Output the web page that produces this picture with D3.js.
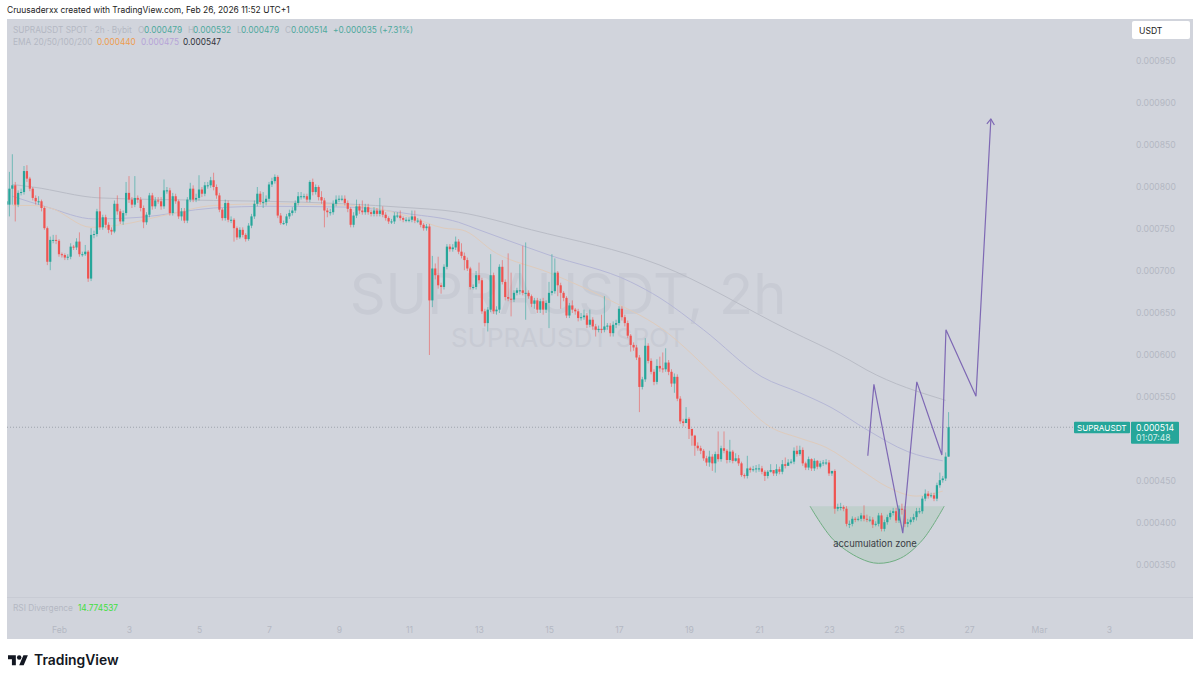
<!DOCTYPE html>
<html>
<head>
    <meta charset="utf-8">
    <title>SUPRAUSDT 2h</title>
    <script src="https://d3js.org/d3.v7.min.js"></script>
    <style>
        html, body { margin: 0; padding: 0; background: #fff; }
        svg { display: block; font-family: Inter, "Noto Sans", sans-serif; }
        .axis path, .axis line { display: none; }
    </style>
</head>

<body>
<div id="chart"></div>
<script type="text/javascript">
    // prices are in millionths of USDT, one value per 2h candle
    const firstCandle = "2026-01-30T12:00:00Z";
    const closes = [
        779,798,802,779,793,794,819,810,798,787,783,783,775,751,711,737,737,736,720,719,
        716,717,729,728,735,720,720,723,691,743,744,771,752,764,755,749,747,780,771,759,
        769,793,785,779,787,785,775,758,767,790,777,784,783,777,796,796,769,789,783,765,
        771,760,785,798,785,787,797,792,802,802,808,800,790,773,763,781,761,
        761,751,740,749,743,738,754,765,780,792,782,782,786,803,807,812,766,757,757,765,
        769,772,781,789,789,789,785,806,794,800,788,784,772,770,770,780,785,786,786,781,
        774,755,766,777,772,770,776,770,768,772,768,772,767,763,759,759,766,766,763,761,
        761,761,765,760,760,755,751,753,665,703,695,683,681,705,729,726,728,735,723,
        718,713,703,681,681,695,689,652,638,654,695,652,654,705,687,669,667,666,674,677,
        677,674,674,670,661,665,654,664,654,662,674,676,698,683,674,668,647,659,654,652,
        644,645,647,636,642,634,630,631,630,634,635,626,636,638,655,645,638,623,612,609,597,
        562,571,611,593,580,568,587,584,583,591,580,566,574,548,521,519,524,512,504,492,
        489,486,477,472,479,471,482,476,489,486,475,485,474,477,471,457,456,465,463,464,
        465,465,461,456,461,463,459,464,461,470,468,472,473,486,482,487,471,466,476,465,
        474,467,471,472,472,459,462,
        417,419,419,417,399,399,405,404,405,409,405,404,404,398,399,409,393,401,407,412,
        414,403,417,416,399,401,404,407,414,414,429,435,432,433,429,445,451,453,479,514
    ];
    const highs = [
        787,818,839,806,796,798,825,826,812,800,790,789,785,777,753,741,743,743,738,722,
        721,720,733,731,739,746,723,731,725,751,748,774,800,767,767,758,752,784,790,774,
        772,806,813,788,813,790,788,778,770,793,793,788,788,788,809,800,799,793,792,785,
        775,775,788,805,802,792,814,800,806,806,812,817,803,793,775,785,784,
        765,763,753,752,752,745,757,768,784,800,795,794,790,806,811,815,814,769,760,768,
        773,776,784,794,794,792,792,808,810,803,802,795,787,775,774,784,790,790,790,790,
        784,776,770,785,780,784,780,780,773,776,775,787,777,770,765,762,770,770,772,765,
        764,764,772,772,763,762,757,756,756,718,709,717,686,708,732,732,732,741,738,
        733,722,716,705,684,700,710,692,655,657,720,698,658,708,713,690,721,698,677,680,
        708,730,734,677,672,668,668,667,668,665,687,720,715,700,686,676,670,662,665,656,
        655,650,654,650,654,645,637,635,648,670,638,638,640,642,658,658,648,641,625,615,612,
        600,574,620,614,596,583,595,598,603,608,594,583,578,577,551,524,538,526,512,505,
        496,492,488,480,486,482,485,509,492,509,488,499,487,483,481,473,459,480,467,468,
        469,470,468,463,463,470,463,470,467,475,478,476,476,490,492,492,490,473,479,477,
        477,475,474,475,476,475,462,
        464,423,424,421,420,403,408,407,408,412,421,410,408,407,402,412,412,404,410,415,
        418,418,421,423,420,405,407,411,418,418,432,440,438,436,436,448,460,456,484,532
    ];
    const lows = [
        775,765,779,759,776,790,791,806,795,784,779,779,771,749,707,701,733,732,717,716,
        713,713,714,725,725,717,717,718,687,688,739,741,749,749,751,745,743,745,767,756,
        755,766,781,775,776,781,771,751,755,764,773,774,780,773,774,792,766,766,780,762,
        760,757,757,782,782,782,784,788,789,798,799,796,786,770,760,760,758,
        757,735,737,738,740,735,736,751,762,777,779,775,778,783,800,804,763,755,755,754,
        762,766,769,778,785,786,782,782,790,791,784,780,752,764,766,767,777,782,783,778,
        770,752,752,763,768,767,767,767,765,765,765,765,764,760,756,756,756,763,760,758,
        758,758,758,757,757,752,748,748,600,657,690,679,673,678,702,723,723,725,720,
        715,701,700,678,678,678,685,649,634,628,651,649,648,650,684,665,664,646,663,671,
        672,671,642,667,657,655,650,650,648,650,632,671,673,670,655,664,644,644,650,648,
        640,641,642,632,633,630,622,627,626,627,630,622,622,632,635,641,634,620,604,605,594,
        532,559,568,590,577,564,565,580,579,580,576,562,555,545,518,515,521,500,492,480,
        486,482,474,468,467,462,460,473,473,483,471,472,471,473,468,455,453,453,460,461,
        460,461,458,450,453,460,456,456,458,458,465,469,470,470,479,480,468,463,463,462,
        462,464,465,468,469,456,456,
        411,414,415,414,396,394,396,401,402,402,402,401,401,394,396,396,390,390,398,404,
        409,400,400,410,395,395,398,401,403,411,411,426,429,430,426,426,442,448,450,479
    ];

    // moving averages read at a few candles (candle number, price)
    const ema200Candles = [2,9,32,71,101,135,155,180,224,268,289,295,322];
    const ema200Values = [803,800,787,784,782,776,770,749,707,630,594,582,546];
    const ema100Candles = [2,14,30,46,71,90,118,138,155,162,186,214,224,239,259,272,283,295,309,321];
    const ema100Values = [789,776,762,764,775,777,776,768,758,749,719,687,668,630,574,555,537,511,485,474];
    const ema50Candles = [2,9,15,29,39,55,71,90,118,138,150,156,168,186,207,224,248,262,272,281,293,302,312,321];
    const ema50Values = [778,778,775,752,755,767,778,780,778,765,751,749,721,698,665,633,558,514,501,490,463,443,432,438];

    // hand drawn path and the accumulation arc
    const pathCandles = [295.3,297.4,307.3,312.1,320.7,322.1,332.4,337.5];
    const pathValues = [480,565,388,568,481,630,551,881];
    const zoneCandles = [275.5,283.5,292.6,298.9,306.5,314.1,321.5];
    const zoneValues = [420,380,358,352,358,380,420];

    const priceTicks = [350,400,450,500,550,600,650,700,750,800,850,900,950];
    const tickDates = ["2026-02-01","2026-02-03","2026-02-05","2026-02-07","2026-02-09","2026-02-11","2026-02-13","2026-02-15","2026-02-17","2026-02-19","2026-02-21","2026-02-23","2026-02-25","2026-02-27","2026-03-01","2026-03-03"];
    const tickLabels = ["Feb","3","5","7","9","11","13","15","17","19","21","23","25","27","Mar","3"];
    const lastPrice = 514;

    const width = 1200, height = 682;
    const panel = {left: 7, top: 19, right: 1193, bottom: 639};
    const plotRight = 1131;
    const upColor = "#26a69a", downColor = "#ef5350";
    const dimText = "#b4b8c3";
    const bg = "#d1d4dc";

    const t0 = new Date(firstCandle).getTime();
    const candleTime = i => new Date(t0 + i * 2 * 3600 * 1000);

    const x = d3.scaleUtc()
        .domain([new Date(tickDates[0]), new Date("2026-02-27")])
        .range([59, 969]);
    const y = d3.scaleLinear().domain([350, 950]).range([565, 61]);

    const svg = d3.select("#chart").append("svg")
        .attr("width", width).attr("height", height);

    svg.append("rect")
        .attr("x", panel.left).attr("y", panel.top)
        .attr("width", panel.right - panel.left).attr("height", panel.bottom - panel.top)
        .attr("fill", bg);

    svg.append("clipPath").attr("id", "plot").append("rect")
        .attr("x", panel.left).attr("y", panel.top)
        .attr("width", plotRight - panel.left).attr("height", 578);

    // pane separator
    svg.append("line")
        .attr("x1", panel.left).attr("x2", panel.right)
        .attr("y1", 597.5).attr("y2", 597.5)
        .attr("stroke", "#c8cbd4");

    // watermark
    svg.append("text").attr("x", 568).attr("y", 314)
        .attr("text-anchor", "middle").attr("font-size", 56)
        .attr("fill", "#c8cbd4").text("SUPRAUSDT, 2h");
    svg.append("text").attr("x", 568).attr("y", 347)
        .attr("text-anchor", "middle").attr("font-size", 26)
        .attr("fill", "#c8cbd4").text("SUPRAUSDT SPOT");

    const plot = svg.append("g").attr("clip-path", "url(#plot)");

    // last price dotted line
    plot.append("line")
        .attr("x1", panel.left).attr("x2", plotRight)
        .attr("y1", y(lastPrice)).attr("y2", y(lastPrice))
        .attr("stroke", "#9ea3ad").attr("stroke-width", 1)
        .attr("stroke-dasharray", "1 2");

    // moving averages
    function drawEma(candles, values, color) {
        const line = d3.line()
            .x(function (d, i) { return x(candleTime(candles[i])); })
            .y(function (d) { return y(d); })
            .curve(d3.curveMonotoneX);
        plot.append("path").attr("d", line(values))
            .attr("fill", "none").attr("stroke", color).attr("stroke-width", 1);
    }
    drawEma(ema200Candles, ema200Values, "#b9bcc6");
    drawEma(ema100Candles, ema100Values, "#b5b7d6");
    drawEma(ema50Candles, ema50Values, "#dfcbbb");

    // accumulation zone
    const zoneLine = d3.line()
        .x(function (d, i) { return x(candleTime(zoneCandles[i])); })
        .y(function (d) { return y(d); })
        .curve(d3.curveCatmullRom);
    plot.append("path").attr("d", zoneLine(zoneValues) + "Z")
        .attr("fill", "#7fbf8a").attr("fill-opacity", 0.2);
    plot.append("path").attr("d", zoneLine(zoneValues))
        .attr("fill", "none").attr("stroke", "#6fae82").attr("stroke-width", 1);

    // candles
    const candles = plot.selectAll("g.candle")
        .data(closes)
        .enter().append("g").attr("class", "candle");
    const isUp = (d, i) => d >= (i > 0 ? closes[i - 1] : d);

    candles.append("line")
        .attr("x1", (d, i) => x(candleTime(i))).attr("x2", (d, i) => x(candleTime(i)))
        .attr("y1", (d, i) => y(highs[i])).attr("y2", (d, i) => y(lows[i]))
        .attr("stroke", (d, i) => isUp(d, i) ? upColor : downColor)
        .attr("stroke-opacity", 0.7).attr("stroke-width", 0.8);
    candles.append("rect")
        .attr("x", (d, i) => x(candleTime(i)) - 1.1)
        .attr("width", 2.2)
        .attr("y", (d, i) => y(Math.max(d, i > 0 ? closes[i - 1] : 783)))
        .attr("height", (d, i) => Math.max(1, Math.abs(y(d) - y(i > 0 ? closes[i - 1] : 783))))
        .attr("fill", (d, i) => isUp(d, i) ? upColor : downColor);

    // hand drawn path with arrow head
    const pathLine = d3.line()
        .x(function (d, i) { return x(candleTime(pathCandles[i])); })
        .y(function (d) { return y(d); });
    svg.append("path").attr("d", pathLine(pathValues))
        .attr("fill", "none").attr("stroke", "#7e68b4").attr("stroke-width", 1.2);
    const tipX = x(candleTime(pathCandles[pathCandles.length - 1]));
    const tipY = y(pathValues[pathValues.length - 1]);
    svg.append("path")
        .attr("d", d3.line()([[tipX - 4, tipY + 5], [tipX, tipY], [tipX + 3.5, tipY + 6]]))
        .attr("fill", "none").attr("stroke", "#7e68b4").attr("stroke-width", 1.2);

    svg.append("text").attr("x", 875).attr("y", 547)
        .attr("text-anchor", "middle").attr("font-size", 9.4)
        .attr("fill", "#3a3d45").text("accumulation zone");

    // axes
    svg.append("g").attr("class", "axis")
        .attr("transform", "translate(0,624)")
        .call(d3.axisBottom(x)
            .tickValues(tickDates.map(d => new Date(d)))
            .tickSize(0)
            .tickFormat((d, i) => tickLabels[i]))
        .call(g => g.attr("font-family", null).attr("font-size", 8.6)
            .selectAll("text").attr("fill", dimText));
    svg.append("g").attr("class", "axis")
        .attr("transform", "translate(1131,0)")
        .call(d3.axisRight(y)
            .tickValues(priceTicks)
            .tickSize(0)
            .tickPadding(5)
            .tickFormat(d => (d / 1e6).toFixed(6)))
        .call(g => g.attr("font-family", null).attr("font-size", 8.6)
            .selectAll("text").attr("fill", dimText));

    // header and legends
    function label(px, py, text, color, size, weight) {
        return svg.append("text").attr("x", px).attr("y", py)
            .attr("font-size", size || 8.3).attr("fill", color)
            .attr("font-weight", weight || 400).text(text);
    }
    label(7, 13, "Cruusaderxx created with TradingView.com, Feb 26, 2026 11:52 UTC+1", "#222", 8.45);

    const teal = "#4fa99d";
    label(13, 33, "SUPRAUSDT SPOT \u00b7 2h \u00b7 Bybit", dimText);
    label(138, 33, "O", dimText);
    label(144, 33, "0.000479", teal);
    label(188, 33, "H", dimText);
    label(193, 33, "0.000532", teal);
    label(237, 33, "L", dimText);
    label(241, 33, "0.000479", teal);
    label(285, 33, "C", dimText);
    label(291, 33, "0.000514", teal);
    label(333, 33, "+0.000035 (+7.31%)", teal);
    label(13, 45, "EMA 20/50/100/200", dimText);
    label(97, 45, "0.000440", "#ee9d50");
    label(141, 45, "0.000475", "#b6a4d8");
    label(183, 45, "0.000547", "#30333a");

    label(13, 611, "RSI Divergence", dimText);
    label(78, 611, "14.774537", "#3fdf3f");

    // currency button
    svg.append("rect").attr("x", 1132).attr("y", 21).attr("width", 58).attr("height", 18)
        .attr("rx", 2).attr("fill", "#fff");
    label(1139, 33.5, "USDT", "#222", 8.6);

    // last price tags
    svg.append("rect").attr("x", 1074).attr("y", y(lastPrice) - 5.5)
        .attr("width", 56).attr("height", 11.5).attr("rx", 1).attr("fill", upColor);
    svg.append("rect").attr("x", 1131).attr("y", y(lastPrice) - 5.5)
        .attr("width", 48).attr("height", 22).attr("rx", 1).attr("fill", upColor);
    label(1077, y(lastPrice) + 3.5, "SUPRAUSDT", "#fff", 8.2);
    label(1136, y(lastPrice) + 3.5, (lastPrice / 1e6).toFixed(6), "#fff", 8.6);
    label(1136, y(lastPrice) + 13.5, "01:07:48", "#d4efe9", 8.6);

    // TradingView logo
    const logo = svg.append("g").attr("transform", "translate(8,653) scale(0.56)").attr("fill", "#131722");
    logo.append("path").attr("d", "M14 22H7V11H0V4h14v18zM28 22h-8l7.5-18h8L28 22z");
    logo.append("circle").attr("cx", 20).attr("cy", 8).attr("r", 4);
    label(34, 665, "TradingView", "#131722", 13.9, 600);
</script>
</body>
</html>
